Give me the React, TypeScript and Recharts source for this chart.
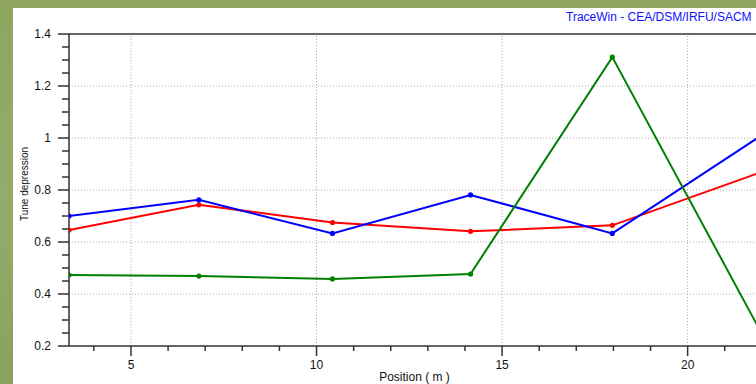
import React from "react";
import {
  LineChart,
  Line,
  XAxis,
  YAxis,
  ReferenceLine
} from "recharts";

// positions along the line (m)
const positions = [3.33, 6.83, 10.43, 14.15, 17.97, 21.95];

// tune depression per plane
const tuneX = [0.70, 0.762, 0.633, 0.781, 0.633, 1.006];
const tuneY = [0.646, 0.743, 0.675, 0.641, 0.664, 0.867];
const tuneZ = [0.473, 0.469, 0.458, 0.477, 1.311, 0.26];

const xTicks = [4, 5, 6, 7, 8, 9, 10, 11, 12, 13, 14, 15, 16, 17, 18, 19, 20, 21];
const xMajor = [5, 10, 15, 20];
const yTicks = [
  0.2, 0.25, 0.3, 0.35, 0.4, 0.45, 0.5, 0.55, 0.6, 0.65, 0.7, 0.75,
  0.8, 0.85, 0.9, 0.95, 1, 1.05, 1.1, 1.15, 1.2, 1.25, 1.3, 1.35, 1.4
];
const yMajor = [0.2, 0.4, 0.6, 0.8, 1, 1.2, 1.4];

const data = positions.map((x, i) => ({
  x,
  tuneX: tuneX[i],
  tuneY: tuneY[i],
  tuneZ: tuneZ[i]
}));

const FONT = "'Liberation Sans', Arial, sans-serif";
const AXIS = "#333";
const GRID = "#a8a8a8";

const isMajorY = (v: number) => yMajor.some((m) => Math.abs(m - v) < 1e-6);

const YTick = (props: any) => {
  const { x, y, payload } = props;
  const major = isMajorY(payload.value);
  return (
    <g>
      <line x1={x} x2={x - (major ? 11 : 7)} y1={y} y2={y} stroke={AXIS} strokeWidth={1.5} />
      {major && (
        <text x={51} y={y} dy="0.36em" textAnchor="end" fontSize={12} fontFamily={FONT} fill="#111">
          {String(payload.value)}
        </text>
      )}
    </g>
  );
};

const XTick = (props: any) => {
  const { x, y, payload } = props;
  const major = xMajor.includes(payload.value);
  return (
    <g>
      <line x1={x} x2={x} y1={y} y2={y + (major ? 10 : 5)} stroke={AXIS} strokeWidth={1.5} />
      {major && (
        <text x={x} y={y + 23} textAnchor="middle" fontSize={12} fontFamily={FONT} fill="#111">
          {String(payload.value)}
        </text>
      )}
    </g>
  );
};

const dotOf = (c: string) => ({ r: 2.6, fill: c, stroke: c, strokeWidth: 0 });

export default function App() {
  return (
    <div
      style={{
        position: "fixed",
        left: 0,
        top: 0,
        width: 756,
        height: 384,
        overflow: "hidden",
        background: "linear-gradient(180deg, #8ea660 0%, #95ab6a 50%, #8aa25e 100%)"
      }}
    >
      <div style={{ position: "absolute", left: 13, top: 8, right: 0, bottom: 0, background: "#fff" }} />
      <div
        style={{
          position: "absolute",
          left: 566,
          top: 10,
          fontFamily: FONT,
          fontSize: 12,
          color: "#1010ff",
          whiteSpace: "nowrap"
        }}
      >
        TraceWin - CEA/DSM/IRFU/SACM
      </div>
      <div
        style={{
          position: "absolute",
          left: 24,
          top: 184,
          transform: "translate(-50%, -50%) rotate(-90deg)",
          fontFamily: FONT,
          fontSize: 10,
          color: "#111",
          whiteSpace: "nowrap"
        }}
      >
        Tune depression
      </div>
      <div style={{ position: "absolute", left: 0, top: 0 }}>
        <LineChart
          width={790}
          height={384}
          data={data}
          margin={{ top: 34, right: 30, left: 0, bottom: 0 }}
        >
          <XAxis
            dataKey="x"
            type="number"
            domain={[3.33, 21.95]}
            allowDataOverflow
            ticks={xTicks}
            interval={0}
            tickSize={0}
            tickMargin={0}
            tick={<XTick />}
            tickLine={false}
            axisLine={{ stroke: AXIS, strokeWidth: 1.5 }}
            height={38}
            label={{
              value: "Position ( m )",
              position: "insideBottom",
              offset: 3,
              fontSize: 12,
              fontFamily: FONT,
              fill: "#111"
            }}
          />
          <YAxis
            type="number"
            domain={[0.2, 1.4]}
            allowDataOverflow
            ticks={yTicks}
            interval={0}
            tickSize={0}
            tickMargin={0}
            tick={<YTick />}
            tickLine={false}
            axisLine={{ stroke: AXIS, strokeWidth: 1.5 }}
            width={69}
          />
          {yMajor.slice(1, -1).map((v) => (
            <ReferenceLine key={"gy" + v} y={v} stroke={GRID} strokeDasharray="1 2" />
          ))}
          {xMajor.map((v) => (
            <ReferenceLine key={"gx" + v} x={v} stroke={GRID} strokeDasharray="1 2" />
          ))}
          <ReferenceLine y={1.4} stroke={AXIS} strokeWidth={1.5} />
          <Line dataKey="tuneY" stroke="#ff0000" strokeWidth={2} dot={dotOf("#ff0000")} isAnimationActive={false} />
          <Line dataKey="tuneX" stroke="#0000ff" strokeWidth={2} dot={dotOf("#0000ff")} isAnimationActive={false} />
          <Line dataKey="tuneZ" stroke="#008000" strokeWidth={2} dot={dotOf("#008000")} isAnimationActive={false} />
        </LineChart>
      </div>
    </div>
  );
}
